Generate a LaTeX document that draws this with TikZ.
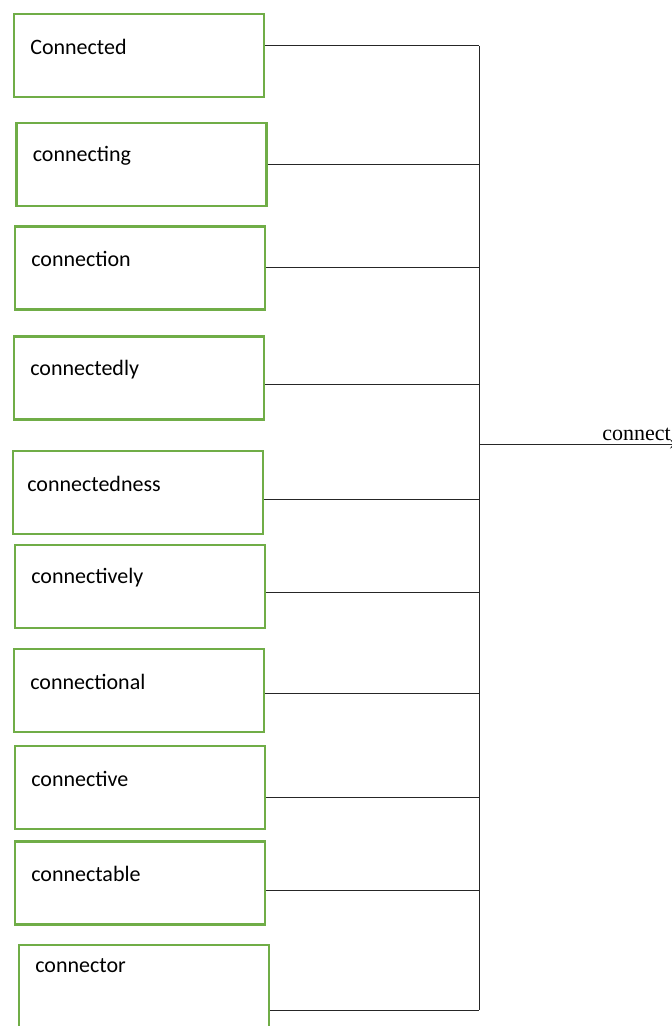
\documentclass[tikz,border=0pt]{standalone}
\usepackage{fontspec}
\setmainfont{Carlito}
\newfontfamily\rootfont{Liberation Serif}
\usetikzlibrary{arrows.meta}

\definecolor{boxgreen}{RGB}{112,173,71}

\tikzset{
  wordbox/.style={draw=boxgreen, line width=1.1pt, minimum width=125pt, minimum height=41.5pt, inner sep=0pt},
  wordtext/.style={anchor=west, inner sep=0pt, xshift=8.5pt, yshift=-17pt, font=\fontsize{11}{13}\selectfont},
  link/.style={line width=0.5pt, black!85}
}

\begin{document}
\begin{tikzpicture}[x=0.5pt,y=-0.5pt]
\useasboundingbox (0,0) rectangle (671,1026);

% the word boxes
\node[wordbox, label={[wordtext]north west:Connected}] (b1) at (139,55.5) {};

\node[wordbox, label={[wordtext]north west:connecting}] (b2) at (141.5,164.5) {};

\node[wordbox, label={[wordtext]north west:connection}] (b3) at (140,268) {};

\node[wordbox, label={[wordtext]north west:connectedly}] (b4) at (139,378) {};

\node[wordbox, label={[wordtext,xshift=-1pt]north west:connectedness}] (b5) at (138,492.5) {};

\node[wordbox, label={[wordtext]north west:connectively}] (b6) at (140,586.5) {};

\node[wordbox, label={[wordtext]north west:connectional}] (b7) at (139,690.5) {};

\node[wordbox, label={[wordtext]north west:connective}] (b8) at (140,787.5) {};

\node[wordbox, label={[wordtext]north west:connectable}] (b9) at (140,883) {};

\node[wordbox, label={[wordtext,yshift=6pt]north west:connector}] (b10) at (144,986.5) {};

% points on the bus
\coordinate (j1) at (479,46);
\coordinate (j2) at (479,165);
\coordinate (j3) at (479,268);
\coordinate (j4) at (479,384);
\coordinate (j5) at (479,499);
\coordinate (j6) at (479,592);
\coordinate (j7) at (479,693);
\coordinate (j8) at (479,797);
\coordinate (j9) at (479,890);
\coordinate (j10) at (479,1010);

\coordinate (hub) at (479,444);
\coordinate (out) at (680,444);

\foreach \i in {1,...,10}
  \draw[link] (b\i.east |- j\i) -- (j\i);

\draw[link] (j1) -- (j10);

\draw[link,-{Stealth[length=5pt,width=4.5pt]}] (hub) -- (out);

\node[anchor=base west, inner sep=0pt, font=\rootfont\fontsize{11}{13}\selectfont] (root) at (602,440) {connect};

\end{tikzpicture}
\end{document}
